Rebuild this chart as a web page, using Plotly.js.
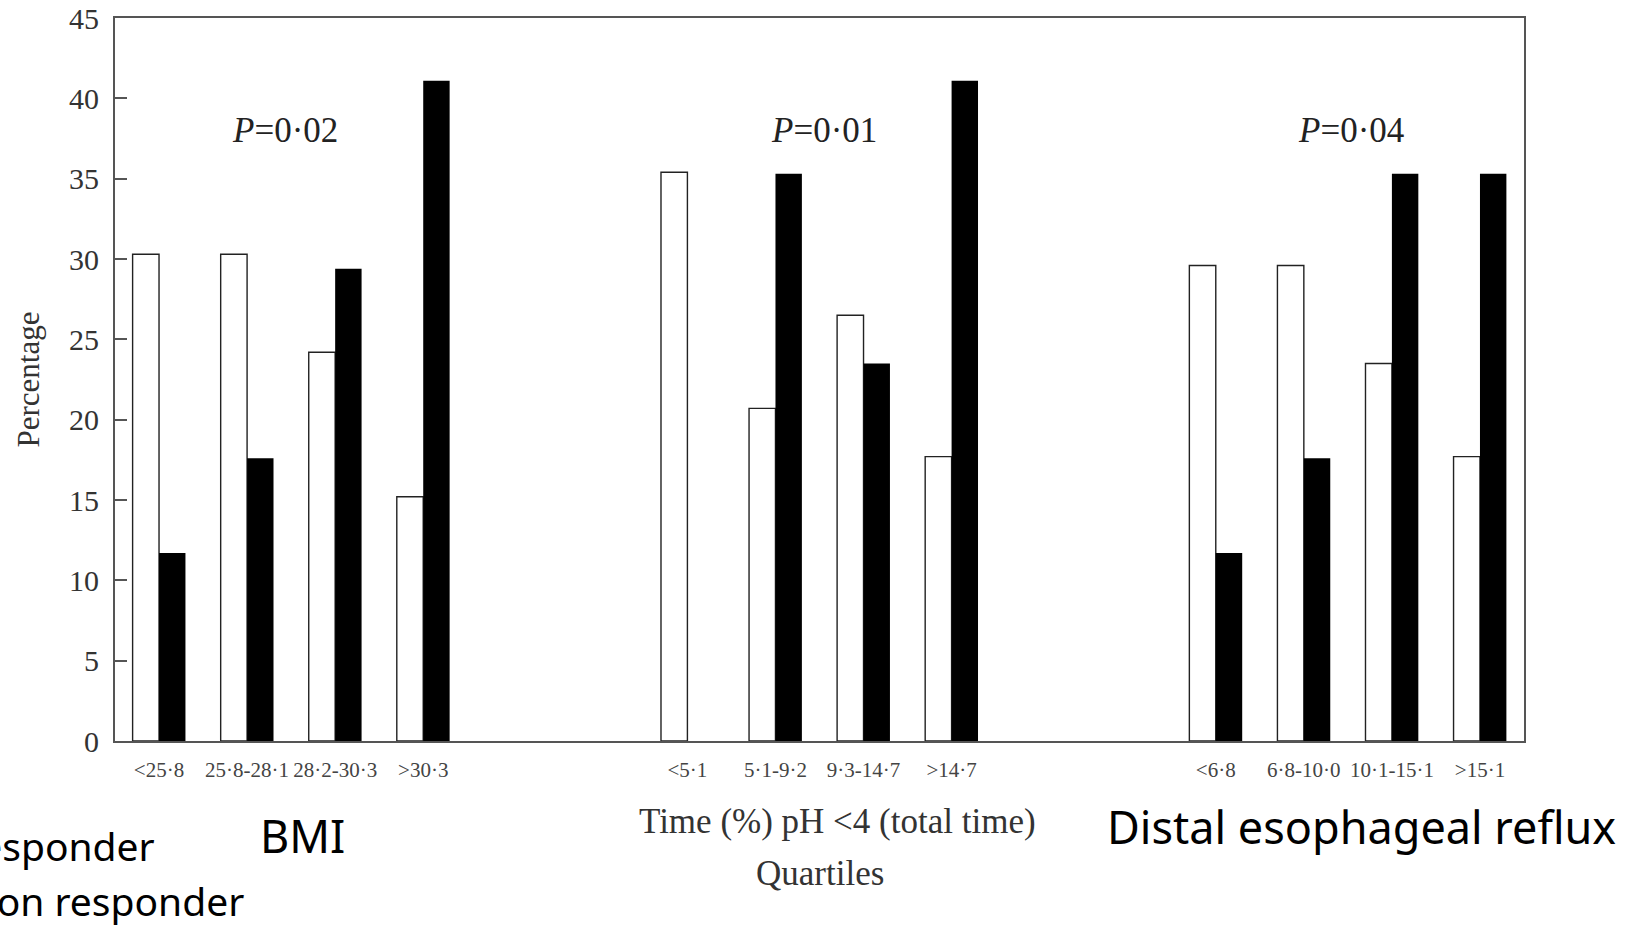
<!DOCTYPE html>
<html>
<head>
<meta charset="utf-8">
<script src="https://cdn.plot.ly/plotly-3.0.1.min.js"></script>
<style>html,body{margin:0;padding:0;background:#fff;}#chart{width:1642px;height:926px;}</style>
</head>
<body>
<div id="chart"></div>
<script>
// ---- data ----
const groupNames = ["BMI", "Time (%) pH <4 (total time)", "Distal esophageal reflux"];
const bmiLabels = ["<25·8", "25·8-28·1", "28·2-30·3", ">30·3"];
const timeLabels = ["<5·1", "5·1-9·2", "9·3-14·7", ">14·7"];
const refluxLabels = ["<6·8", "6·8-10·0", "10·1-15·1", ">15·1"];
const responderBMI = [30.3, 30.3, 24.2, 15.2];
const responderTime = [35.4, 20.7, 26.5, 17.7];
const responderReflux = [29.6, 29.6, 23.5, 17.7];
const nonResponderBMI = [11.7, 17.6, 29.4, 41.1];
const nonResponderTime = [0, 35.3, 23.5, 41.1];
const nonResponderReflux = [11.7, 17.6, 35.3, 35.3];
const pValues = ["0·02", "0·01", "0·04"];
const seriesNames = ["Responder", "Non responder"];

// ---- build ----
const labelGroups = [bmiLabels, timeLabels, refluxLabels];
const respGroups = [responderBMI, responderTime, responderReflux];
const nonGroups = [nonResponderBMI, nonResponderTime, nonResponderReflux];
const slotsPerGroup = 6; // 4 categories + 2 empty slots
const xs = [], ticks = [], resp = [], non = [];
labelGroups.forEach((labs, g) => {
  labs.forEach((lab, i) => {
    xs.push(g * slotsPerGroup + i);
    ticks.push(lab);
    resp.push(respGroups[g][i]);
    non.push(nonGroups[g][i]);
  });
});

const serif = "Liberation Serif, Times New Roman, serif";
const sans = "Noto Sans, Noto Sans CJK KR, sans-serif";

const traces = [
  {type: "bar", name: seriesNames[0], x: xs, y: resp,
   marker: {color: "#ffffff", line: {color: "#222", width: 1.4}}},
  {type: "bar", name: seriesNames[1], x: xs, y: non,
   marker: {color: "#000000", line: {color: "#000", width: 0}}}
];

const pNudge = [-0.07, 0.05, 0.04];
const annotations = [];
pValues.forEach((p, g) => {
  annotations.push({x: g * slotsPerGroup + 1.5 + pNudge[g], y: 38, xref: "x", yref: "y",
    text: "<i>P</i>=" + p, showarrow: false,
    font: {family: serif, size: 35, color: "#222"}});
});
annotations.push({x: -0.0617, xref: "paper", y: 0.5, yref: "paper", xanchor: "center", yanchor: "middle",
  textangle: -90, text: "Percentage", showarrow: false, font: {family: serif, size: 31, color: "#333"}});
annotations.push({x: 0.513, xref: "paper", y: -0.112, yref: "paper", xanchor: "center", yanchor: "middle",
  text: groupNames[1], showarrow: false, font: {family: serif, size: 35, color: "#333"}});
annotations.push({x: 0.5, xref: "paper", y: -0.183, yref: "paper", xanchor: "center", yanchor: "middle",
  text: "Quartiles", showarrow: false, font: {family: serif, size: 35, color: "#333"}});
annotations.push({x: 0.133, xref: "paper", y: -0.131, yref: "paper", xanchor: "center", yanchor: "middle",
  text: groupNames[0], showarrow: false, font: {family: sans, size: 45, color: "#000"}});
annotations.push({x: 0.7023, xref: "paper", y: -0.1185, yref: "paper", xanchor: "left", yanchor: "middle",
  text: groupNames[2], showarrow: false, font: {family: sans, size: 45, color: "#000"}});
annotations.push({x: 0.0298, xref: "paper", y: -0.145, yref: "paper", yanchor: "middle", xanchor: "right",
  text: seriesNames[0], showarrow: false, font: {family: sans, size: 39, color: "#000"}});
annotations.push({x: 0.093, xref: "paper", y: -0.22, yref: "paper", yanchor: "middle", xanchor: "right",
  text: seriesNames[1], showarrow: false, font: {family: sans, size: 39, color: "#000"}});

const layout = {
  width: 1642, height: 926,
  margin: {l: 115, r: 118, t: 18, b: 185},
  paper_bgcolor: "#fff", plot_bgcolor: "#fff",
  showlegend: false,
  barmode: "group", bargap: 0.4, bargroupgap: 0,
  xaxis: {range: [-0.5, 15.5], tickmode: "array", tickvals: xs, ticktext: ticks,
    showgrid: false, zeroline: false, showline: true, mirror: true,
    linecolor: "#555", linewidth: 2, ticks: "", tickangle: 0, ticklabelstandoff: 9,
    tickfont: {family: serif, size: 21, color: "#444"}},
  yaxis: {range: [0, 45], tickmode: "linear", tick0: 0, dtick: 5,
    showgrid: false, zeroline: false, showline: true, mirror: true,
    linecolor: "#555", linewidth: 2, ticks: "inside", ticklen: 12, tickwidth: 2, tickcolor: "#555",
    ticklabelstandoff: 8,
    tickfont: {family: serif, size: 30, color: "#333"}},
  annotations: annotations
};

Plotly.newPlot("chart", traces, layout, {displayModeBar: false, staticPlot: true});
</script>
</body>
</html>
